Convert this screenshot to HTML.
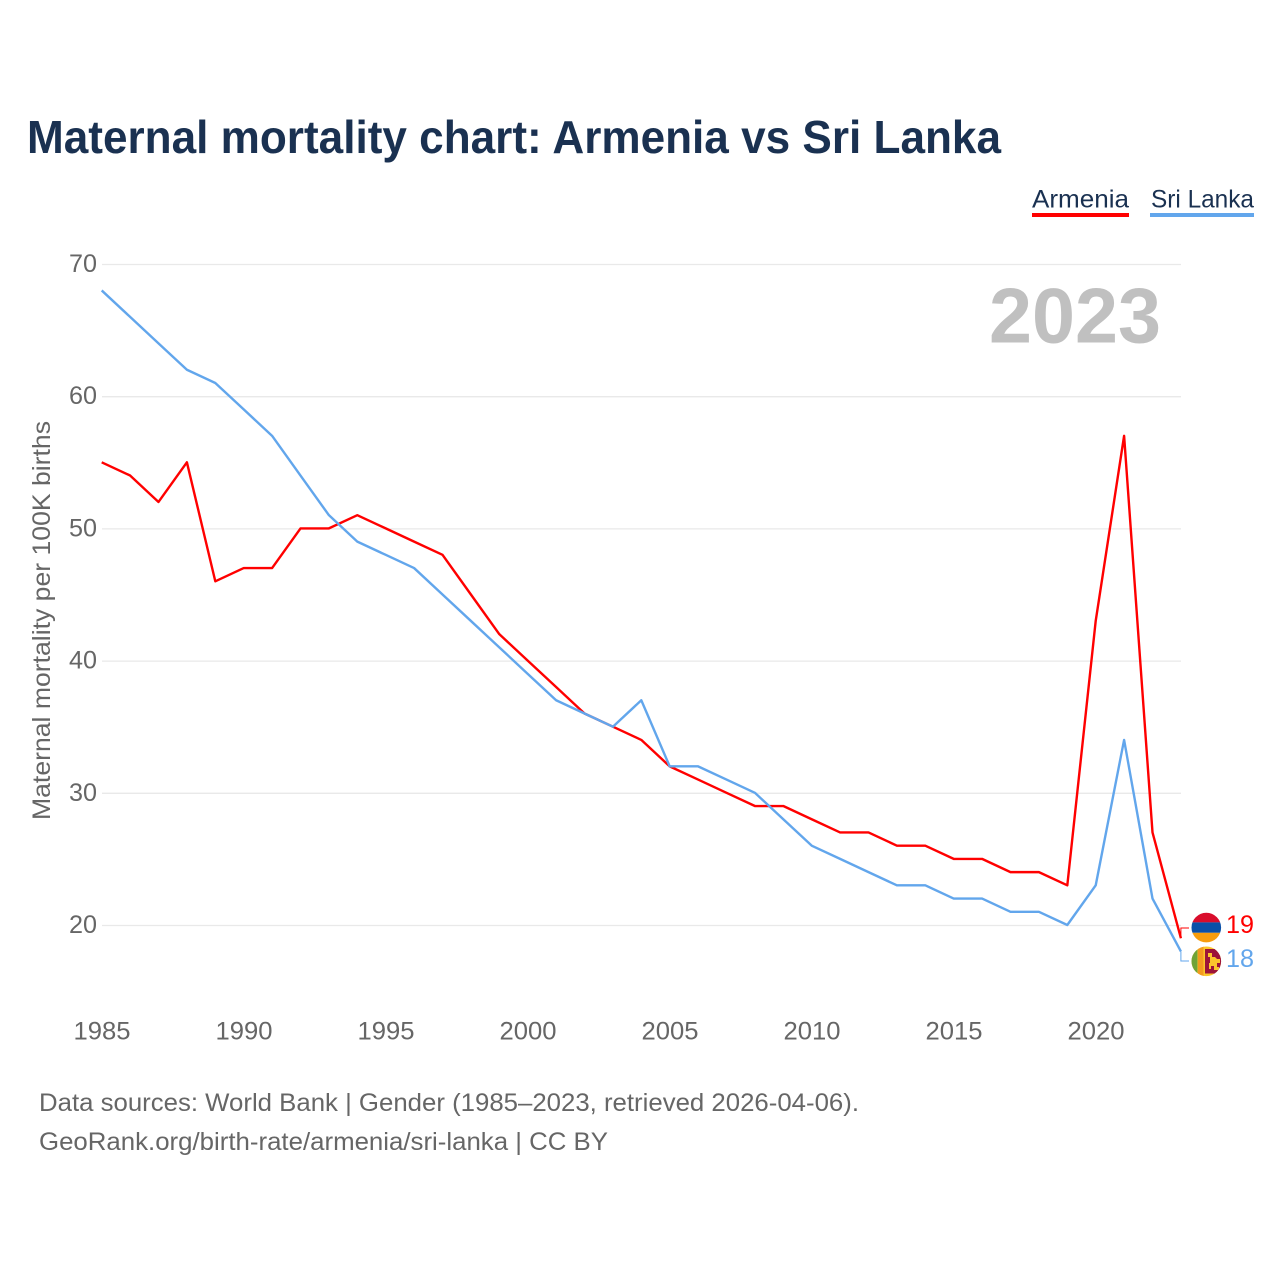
<!DOCTYPE html>
<html lang="en">
<head>
<meta charset="utf-8">
<title>Maternal mortality chart: Armenia vs Sri Lanka</title>
<style>
html,body{margin:0;padding:0;background:#fff;width:1280px;height:1280px;overflow:hidden}
svg{display:block}
text{font-family:"Liberation Sans",sans-serif}
</style>
</head>
<body>
<svg id="chart" width="1280" height="1280" viewBox="0 0 1280 1280" xmlns="http://www.w3.org/2000/svg">
<defs>
<clipPath id="clip-am"><circle cx="1206.3" cy="927.6" r="14.8"/></clipPath>
<clipPath id="clip-lk"><circle cx="1206.3" cy="961.3" r="14.8"/></clipPath>
</defs>
<text x="27" y="153" font-size="46" font-weight="700" fill="#1a3151" textLength="974" lengthAdjust="spacingAndGlyphs">Maternal mortality chart: Armenia vs Sri Lanka</text>

<g>
<g>
<text x="1032" y="207.5" font-size="25" fill="#1a3151" textLength="97" lengthAdjust="spacingAndGlyphs">Armenia</text>
<rect x="1032" y="213" width="97" height="4" fill="#ff0000"/>
</g>
<g>
<text x="1151" y="207.5" font-size="25" fill="#1a3151" textLength="103" lengthAdjust="spacingAndGlyphs">Sri Lanka</text>
<rect x="1150" y="213" width="104" height="4" fill="#62a6ec"/>
</g>
</g>

<g id="grid"></g>
<g id="yticks"></g>
<g id="xticks"></g>

<text transform="translate(50,820) rotate(-90)" font-size="25" fill="#666666" textLength="399" lengthAdjust="spacingAndGlyphs">Maternal mortality per 100K births</text>

<text x="1161" y="342.5" text-anchor="end" font-size="78" font-weight="700" fill="#c0c0c0" textLength="172" lengthAdjust="spacingAndGlyphs">2023</text>

<g id="series"></g>

<g clip-path="url(#clip-am)">
<rect x="1191" y="912" width="31" height="10.4" fill="#d90d2c"/>
<rect x="1191" y="922.4" width="31" height="10.4" fill="#0a50a8"/>
<rect x="1191" y="932.8" width="31" height="11" fill="#f79d0d"/>
</g>
<g clip-path="url(#clip-lk)">
<rect x="1191" y="946" width="31" height="31" fill="#fbc62c"/>
<rect x="1191" y="946" width="6.5" height="31" fill="#6fa338"/>
<rect x="1198" y="946" width="5.5" height="31" fill="#f39a1f"/>
<rect x="1205" y="949" width="16.5" height="24.5" fill="#9c1439"/>
<path d="M1208 953h4v4h3l2 2h3v4h-3v4h2v3h-5v-4h-3v3h-2v-6h1v-6h-2z" fill="#fbc62c"/>
</g>

<text id="end-am" x="1226" y="933" font-size="25" fill="#ff0000" textLength="28" lengthAdjust="spacingAndGlyphs"></text>
<text id="end-lk" x="1226" y="967" font-size="25" fill="#62a6ec" textLength="28" lengthAdjust="spacingAndGlyphs"></text>

<text x="39" y="1111" font-size="25" fill="#666666" textLength="820" lengthAdjust="spacingAndGlyphs">Data sources: World Bank | Gender (1985–2023, retrieved 2026-04-06).</text>
<text x="39" y="1150" font-size="25" fill="#666666" textLength="569" lengthAdjust="spacingAndGlyphs">GeoRank.org/birth-rate/armenia/sri-lanka | CC BY</text>
</svg>
<script>
const years = [1985,1986,1987,1988,1989,1990,1991,1992,1993,1994,1995,1996,1997,1998,1999,2000,2001,2002,2003,2004,2005,2006,2007,2008,2009,2010,2011,2012,2013,2014,2015,2016,2017,2018,2019,2020,2021,2022,2023];
const armenia = [55,54,52,55,46,47,47,50,50,51,50,49,48,45,42,40,38,36,35,34,32,31,30,29,29,28,27,27,26,26,25,25,24,24,23,43,57,27,19];
const sriLanka = [68,66,64,62,61,59,57,54,51,49,48,47,45,43,41,39,37,36,35,37,32,32,31,30,28,26,25,24,23,23,22,22,21,21,20,23,34,22,18];
const yTickValues = [20,30,40,50,60,70];
const xTickValues = [1985,1990,1995,2000,2005,2010,2015,2020];

const NS = 'http://www.w3.org/2000/svg';
function xScale(year){ return 101.7 + (year - 1985) * (1180.9 - 101.7) / (2023 - 1985); }
function yScale(v){ return 925.5 - (v - 20) * (925.5 - 264.5) / 50; }
function lineY(v){ return yScale(v) - 0.5; }
function make(tag, attrs, parent){
  const el = document.createElementNS(NS, tag);
  for (const k in attrs) el.setAttribute(k, attrs[k]);
  parent.appendChild(el);
  return el;
}
const grid = document.getElementById('grid');
const yticks = document.getElementById('yticks');
const xticks = document.getElementById('xticks');
const series = document.getElementById('series');

yTickValues.forEach(function(v){
  const line = make('line', {x1:102, x2:1181, y1:yScale(v), y2:yScale(v), stroke:'#e9e9e9', 'stroke-width':1.3}, grid);
  
  
  const t = make('text', {x:97, y:yScale(v) + 7.5, 'text-anchor':'end', 'font-size':25, fill:'#666666', textLength:28, lengthAdjust:'spacingAndGlyphs'}, yticks);
  
  
  t.textContent = v;
});
xTickValues.forEach(function(y){
  const t = make('text', {x:xScale(y) + 0.3, y:1039.5, 'text-anchor':'middle', 'font-size':25, fill:'#666666', textLength:57, lengthAdjust:'spacingAndGlyphs'}, xticks);
  
  
  t.textContent = y;
});
function linePath(values){
  return values.map(function(v,i){ return (i ? 'L' : 'M') + xScale(years[i]).toFixed(2) + ' ' + lineY(v).toFixed(2); }).join('');
}
const lineAm = make('path', {d:linePath(armenia), fill:'none', stroke:'#ff0000', 'stroke-width':2.4, 'stroke-linejoin':'round'}, series);


const lineLk = make('path', {d:linePath(sriLanka), fill:'none', stroke:'#62a6ec', 'stroke-width':2.4, 'stroke-linejoin':'round'}, series);



const lastAm = armenia[armenia.length - 1];
const lastLk = sriLanka[sriLanka.length - 1];
const endX = xScale(years[years.length - 1]);
const connAm = make('path', {d:'M' + endX + ' ' + lineY(lastAm) + 'V928H1189', fill:'none', stroke:'#ff0000', 'stroke-width':1}, series);


const connLk = make('path', {d:'M' + endX + ' ' + lineY(lastLk) + 'V961H1189', fill:'none', stroke:'#62a6ec', 'stroke-width':1}, series);


document.getElementById('end-am').textContent = lastAm;
document.getElementById('end-lk').textContent = lastLk;
</script>
</body>
</html>
